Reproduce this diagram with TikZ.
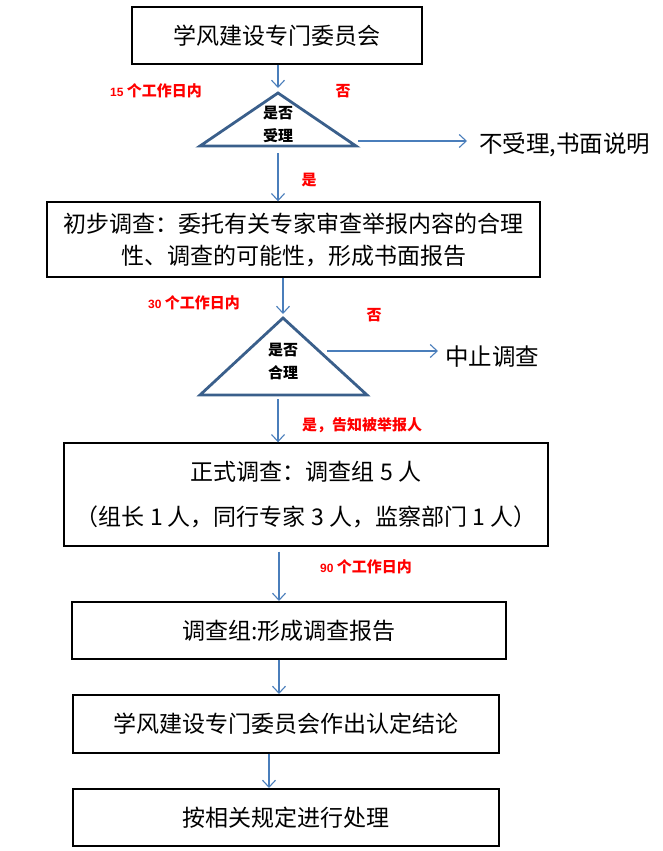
\documentclass[tikz,border=0pt]{standalone}
\usepackage{fontspec}
\usepackage{xcolor}
\usetikzlibrary{arrows.meta}
\newfontfamily\cjk{Noto Sans CJK SC}
\newfontfamily\lat{Liberation Sans}

\definecolor{flowblue}{HTML}{4A7EBB}
\definecolor{triblue}{HTML}{3A5F8B}
\definecolor{notered}{HTML}{FF0000}

\tikzset{
    box/.style={draw, line width=1.4pt, inner sep=0pt, align=center, font=\cjk\fontsize{23}{32}\selectfont},
    flow/.style={draw=flowblue, line width=1.1pt, -{Straight Barb[length=7pt,width=13pt]}},
    tri/.style={draw=triblue, line width=2.8pt, line join=miter},
    tritext/.style={font=\cjk\bfseries\fontsize{15}{17}\selectfont},
    note/.style={text=notered, font=\cjk\bfseries\fontsize{15}{17}\selectfont, inner sep=0pt},
    side/.style={font=\cjk\fontsize{23.5}{26}\selectfont, anchor=west, inner sep=0pt}
}

\begin{document}
\begin{tikzpicture}[x=1pt, y=-1pt]
    \useasboundingbox (0,0) rectangle (662,851);

    % boxes
    \node[box, minimum width=290pt, minimum height=57pt] (com) at (277,35.5) {学风建设专门委员会};
    \node[box, minimum width=493pt, minimum height=75pt] (pre) at (293.5,239.5) {初步调查：委托有关专家审查举报内容的合理\\性、调查的可能性，形成书面报告};
    \node[box, minimum width=484pt, minimum height=103pt, font=\cjk\fontsize{23}{45}\selectfont] (form) at (306,494.5) {正式调查：调查组 5 人\\（组长 1 人，同行专家 3 人，监察部门 1 人）};
    \node[box, minimum width=434pt, minimum height=57pt] (rep) at (289,630.5) {调查组:形成调查报告};
    \node[box, minimum width=426pt, minimum height=58pt] (concl) at (286,724) {学风建设专门委员会作出认定结论};
    \node[box, minimum width=426pt, minimum height=57pt] (proc) at (286,817.5) {按相关规定进行处理};

    % decisions
    \draw[tri] (278,93) -- (200,146) -- (356,146) -- cycle;
    \node[tritext] (acc1) at (278,113) {是否};
    \node[tritext] (acc2) at (278,136) {受理};
    \draw[tri] (283,318) -- (200,395) -- (367,395) -- cycle;
    \node[tritext] (rea1) at (283,350) {是否};
    \node[tritext] (rea2) at (283,373) {合理};

    \coordinate (acctop) at (278,88);
    \coordinate (accbot) at (278,153);
    \coordinate (accright) at (358,141);
    \coordinate (rejend) at (467,141);
    \coordinate (reatop) at (283,314);
    \coordinate (reabot) at (278,399);
    \coordinate (rearight) at (327,351);
    \coordinate (stopend) at (438,351);

    \node[side] (rej) at (479,145) {不受理,书面说明};
    \node[side] (stop) at (445,357) {中止调查};

    % connectors
    \draw[flow] (com.south -| acctop) -- (acctop);
    \draw[flow] (accright) -- (rejend);
    \draw[flow] (accbot) -- (accbot |- pre.north);
    \draw[flow] (pre.south -| reatop) -- (reatop);
    \draw[flow] (rearight) -- (stopend);
    \draw[flow] (reabot) -- (reabot |- form.north);
    \draw[flow] ([yshift=-5pt]form.south -| 279,0) -- (279,601);
    \draw[flow] (rep.south -| 279,0) -- (279,694);
    \draw[flow] (concl.south -| 269,0) -- (269,788);

    % labels
    \node[note, anchor=west] (d15) at (110,91) {{\lat\bfseries\fontsize{12}{14}\selectfont 15}\ 个工作日内};
    \node[note] (no1) at (343,91) {否};
    \node[note] (yes1) at (309,180) {是};
    \node[note, anchor=west] (d30) at (148,303) {{\lat\bfseries\fontsize{12}{14}\selectfont 30}\ 个工作日内};
    \node[note] (no2) at (374,315) {否};
    \node[note, anchor=west] (yes2) at (302,425) {是，告知被举报人};
    \node[note, anchor=west] (d90) at (320,567) {{\lat\bfseries\fontsize{12}{14}\selectfont 90}\ 个工作日内};
\end{tikzpicture}
\end{document}
